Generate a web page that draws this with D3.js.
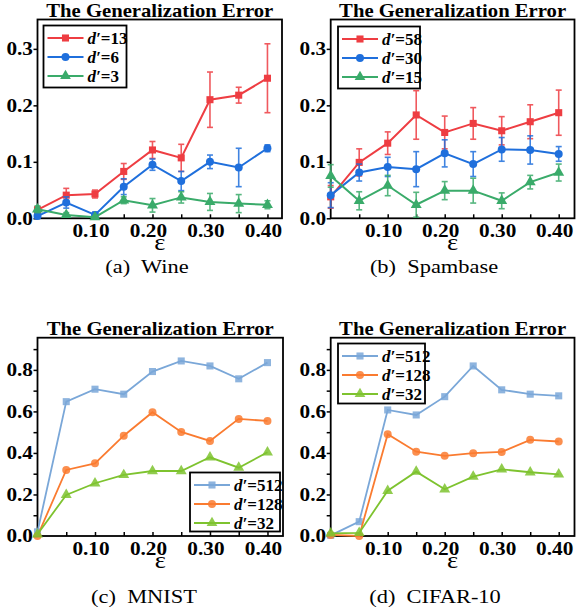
<!DOCTYPE html>
<html>
<head>
<meta charset="utf-8">
<script src="https://cdn.jsdelivr.net/npm/d3@7"></script>
<style>
  body { margin: 0; background: #fff; }
  text { font-family: "Liberation Serif", "Times New Roman", serif; }
</style>
</head>
<body>
<div id="chart-container"></div>
<script>
// global visualization size variables
var width = 577;
var height = 612;

// x values shared by every panel
var epsilons = [0.0, 0.05, 0.10, 0.15, 0.20, 0.25, 0.30, 0.35, 0.40];
var xTickLabels = [0.10, 0.20, 0.30, 0.40];

// (a) Wine
var wineLabels = ["13", "6", "3"];
var wineD13 = [0.015, 0.041, 0.043, 0.083, 0.121, 0.107, 0.210, 0.218, 0.248];
var wineD13Err = [0.005, 0.012, 0.007, 0.014, 0.015, 0.024, 0.049, 0.014, 0.061];
var wineD6 = [0.004, 0.028, 0.006, 0.056, 0.095, 0.066, 0.100, 0.090, 0.124];
var wineD6Err = [0.004, 0.010, 0.005, 0.014, 0.010, 0.017, 0.012, 0.034, 0.006];
var wineD3 = [0.016, 0.006, 0.002, 0.032, 0.023, 0.037, 0.029, 0.026, 0.024];
var wineD3Err = [0.006, 0.004, 0.002, 0.006, 0.012, 0.010, 0.015, 0.016, 0.007];

// (b) Spambase
var spamLabels = ["58", "30", "15"];
var spamD58 = [0.038, 0.099, 0.133, 0.183, 0.152, 0.168, 0.155, 0.171, 0.187];
var spamD58Err = [0.020, 0.024, 0.020, 0.043, 0.029, 0.028, 0.025, 0.030, 0.040];
var spamD30 = [0.041, 0.081, 0.091, 0.087, 0.115, 0.096, 0.122, 0.121, 0.114];
var spamD30Err = [0.022, 0.015, 0.017, 0.031, 0.024, 0.022, 0.021, 0.025, 0.013];
var spamD15 = [0.075, 0.031, 0.058, 0.024, 0.049, 0.049, 0.031, 0.064, 0.081];
var spamD15Err = [0.020, 0.016, 0.018, 0.022, 0.016, 0.022, 0.014, 0.012, 0.015];

// (c) MNIST
var mnistLabels = ["512", "128", "32"];
var mnistD512 = [0.020, 0.647, 0.707, 0.683, 0.792, 0.843, 0.819, 0.757, 0.835];
var mnistD128 = [0.000, 0.318, 0.350, 0.483, 0.596, 0.501, 0.458, 0.564, 0.554];
var mnistD32 = [0.008, 0.198, 0.254, 0.294, 0.313, 0.313, 0.379, 0.329, 0.403];

// (d) CIFAR-10
var cifarLabels = ["512", "128", "32"];
var cifarD512 = [0.003, 0.069, 0.607, 0.583, 0.671, 0.819, 0.704, 0.683, 0.675];
var cifarD128 = [0.005, 0.000, 0.490, 0.406, 0.386, 0.399, 0.405, 0.463, 0.455];
var cifarD32 = [0.013, 0.015, 0.218, 0.310, 0.225, 0.286, 0.321, 0.307, 0.297];

var smallTicks = [0.0, 0.1, 0.2, 0.3];
var bigTicks = [0.0, 0.2, 0.4, 0.6, 0.8];
var bigMinorTicks = [0.1, 0.3, 0.5, 0.7, 0.9];

var topColors = ["#ee3d42", "#1f6fdc", "#3aab6a"];
var bottomColors = ["#7aa7d8", "#fa7b30", "#7ec32f"];
var shapes = [d3.symbolSquare, d3.symbolCircle, d3.symbolTriangle];

// the figure's type is a little wider than plain Times
var stretch = 1.15;

// define the svg container
var svg = d3
  .select("#chart-container")
  .append("svg")
  .attr("width", width)
  .attr("height", height);

// text placed at (x, y) and widened horizontally
function wideText(parent, x, y, str, size) {
  return parent.append("text")
    .attr("transform", "translate(" + x + "," + y + ") scale(" + stretch + ",1)")
    .attr("font-size", size)
    .text(str);
}

// Draws one panel
function drawPanel(p) {
  var x = d3.scaleLinear().domain(p.xDomain).range([p.left, p.right]);
  var y = d3.scaleLinear().domain(p.yDomain).range([p.bottom, p.top]);
  var g = svg.append("g");

  // title
  wideText(g, (p.left + p.right) / 2, p.top - 3, "The Generalization Error", 18)
    .attr("text-anchor", "middle")
    .attr("font-weight", "bold");

  // y axis, ticks outward
  g.append("g").attr("transform", "translate(" + p.left + ",0)")
    .call(d3.axisLeft(y).tickValues(p.yTicks.concat(p.yMinor || [])).tickSize(4).tickFormat(""));
  p.yTicks.forEach(function(t) {
    wideText(g, p.left - 4.5, y(t), d3.format(".1f")(t), 18.5)
      .attr("text-anchor", "end")
      .attr("dy", "0.34em")
      .attr("font-weight", "bold");
  });

  // x axis, ticks inward every 0.05
  g.append("g").attr("transform", "translate(0," + p.bottom + ")")
    .call(d3.axisBottom(x).tickValues(epsilons.slice(1)).tickSize(-4).tickFormat(""));
  xTickLabels.forEach(function(t) {
    wideText(g, x(t) - 4, p.bottom + 18.5, d3.format(".2f")(t), 18.5)
      .attr("text-anchor", "middle")
      .attr("font-weight", "bold");
  });

  g.selectAll(".domain").remove();
  g.selectAll(".tick line").attr("stroke", "#000").attr("stroke-width", 1.5);

  // frame
  g.append("rect")
    .attr("x", p.left)
    .attr("y", p.top)
    .attr("width", p.right - p.left)
    .attr("height", p.bottom - p.top)
    .attr("fill", "none")
    .attr("stroke", "#000")
    .attr("stroke-width", 1.8);

  // epsilon label
  wideText(g, (p.left + p.right) / 2, p.bottom + 31.5, "ε", 23)
    .attr("text-anchor", "middle");

  // caption
  wideText(g, p.captionX, p.captionY, p.caption, 19.5)
    .attr("text-anchor", "middle")
    .attr("xml:space", "preserve");

  var line = d3.line()
    .x(function(d, i) { return x(epsilons[i]); })
    .y(function(d) { return y(d); });

  p.series.forEach(function(s, k) {
    var color = p.colors[k];
    var sg = g.append("g");

    // error bars
    if (s.err) {
      var bars = sg.selectAll(".err")
        .data(s.values)
        .enter()
        .append("g")
        .attr("stroke", color)
        .attr("stroke-width", 1.6)
        .attr("opacity", 0.85);
      bars.append("line")
        .attr("x1", function(d, i) { return x(epsilons[i]); })
        .attr("x2", function(d, i) { return x(epsilons[i]); })
        .attr("y1", function(d, i) { return y(d - s.err[i]); })
        .attr("y2", function(d, i) { return y(d + s.err[i]); });
      [-1, 1].forEach(function(sign) {
        bars.append("line")
          .attr("x1", function(d, i) { return x(epsilons[i]) - 3; })
          .attr("x2", function(d, i) { return x(epsilons[i]) + 3; })
          .attr("y1", function(d, i) { return y(d + sign * s.err[i]); })
          .attr("y2", function(d, i) { return y(d + sign * s.err[i]); });
      });
    }

    sg.append("path")
      .datum(s.values)
      .attr("d", line)
      .attr("fill", "none")
      .attr("stroke", color)
      .attr("stroke-width", p.lineWidth);

    sg.selectAll(".pt")
      .data(s.values)
      .enter()
      .append("path")
      .attr("d", d3.symbol().type(shapes[k]).size(k == 2 ? 52 : 50))
      .attr("transform", function(d, i) {
        return "translate(" + x(epsilons[i]) + "," + y(d) + ")";
      })
      .attr("fill", color)
      .attr("fill-opacity", p.markerOpacity);
  });

  // legend
  var lg = g.append("g");
  lg.append("rect")
    .attr("x", p.legend.x)
    .attr("y", p.legend.y)
    .attr("width", p.legend.w)
    .attr("height", p.legend.h)
    .attr("fill", "#fff")
    .attr("stroke", "#000")
    .attr("stroke-width", 1.8);
  var rows = lg.selectAll(".row")
    .data(p.labels)
    .enter()
    .append("g")
    .attr("transform", function(d, i) {
      return "translate(" + p.legend.x + "," + (p.legend.y + 12.5 + i * 19) + ")";
    });
  rows.append("line")
    .attr("x1", 4)
    .attr("x2", 40)
    .attr("stroke", function(d, i) { return p.colors[i]; })
    .attr("stroke-width", p.lineWidth);
  rows.append("path")
    .attr("d", function(d, i) { return d3.symbol().type(shapes[i]).size(50)(); })
    .attr("transform", "translate(22,0)")
    .attr("fill", function(d, i) { return p.colors[i]; })
    .attr("fill-opacity", p.markerOpacity);
  var lt = rows.append("text")
    .attr("x", 44)
    .attr("dy", "0.35em")
    .attr("font-weight", "bold")
    .attr("font-size", 17);
  lt.append("tspan").attr("font-style", "italic").text("d′");
  lt.append("tspan").text(function(d) { return "=" + d; });
}

drawPanel({
  left: 37.5, right: 282, top: 19.5, bottom: 218.3,
  xDomain: [0, 0.4253], yDomain: [0, 0.352], yTicks: smallTicks,
  caption: "(a)  Wine", captionX: 147, captionY: 273,
  colors: topColors, lineWidth: 2, markerOpacity: 1,
  labels: wineLabels,
  series: [
    { values: wineD13, err: wineD13Err },
    { values: wineD6, err: wineD6Err },
    { values: wineD3, err: wineD3Err }
  ],
  legend: { x: 43.5, y: 25.5, w: 83, h: 62 }
});

drawPanel({
  left: 330.7, right: 574.5, top: 19.5, bottom: 218.3,
  xDomain: [0, 0.4277], yDomain: [0, 0.352], yTicks: smallTicks,
  caption: "(b)  Spambase", captionX: 434, captionY: 273,
  colors: topColors, lineWidth: 2, markerOpacity: 1,
  labels: spamLabels,
  series: [
    { values: spamD58, err: spamD58Err },
    { values: spamD30, err: spamD30Err },
    { values: spamD15, err: spamD15Err }
  ],
  legend: { x: 338, y: 26.5, w: 82, h: 62 }
});

drawPanel({
  left: 37.5, right: 283, top: 337.7, bottom: 536,
  xDomain: [0, 0.4270], yDomain: [0, 0.955], yTicks: bigTicks, yMinor: bigMinorTicks,
  caption: "(c)  MNIST", captionX: 144, captionY: 603,
  colors: bottomColors, lineWidth: 1.8, markerOpacity: 0.85,
  labels: mnistLabels,
  series: [
    { values: mnistD512 },
    { values: mnistD128 },
    { values: mnistD32 }
  ],
  legend: { x: 190, y: 472.5, w: 90, h: 59 }
});

drawPanel({
  left: 330.7, right: 574.5, top: 337.7, bottom: 536,
  xDomain: [0, 0.4277], yDomain: [0, 0.955], yTicks: bigTicks, yMinor: bigMinorTicks,
  caption: "(d)  CIFAR-10", captionX: 435, captionY: 603,
  colors: bottomColors, lineWidth: 1.8, markerOpacity: 0.85,
  labels: cifarLabels,
  series: [
    { values: cifarD512 },
    { values: cifarD128 },
    { values: cifarD32 }
  ],
  legend: { x: 338, y: 343.5, w: 87, h: 60 }
});
</script>
</body>
</html>
